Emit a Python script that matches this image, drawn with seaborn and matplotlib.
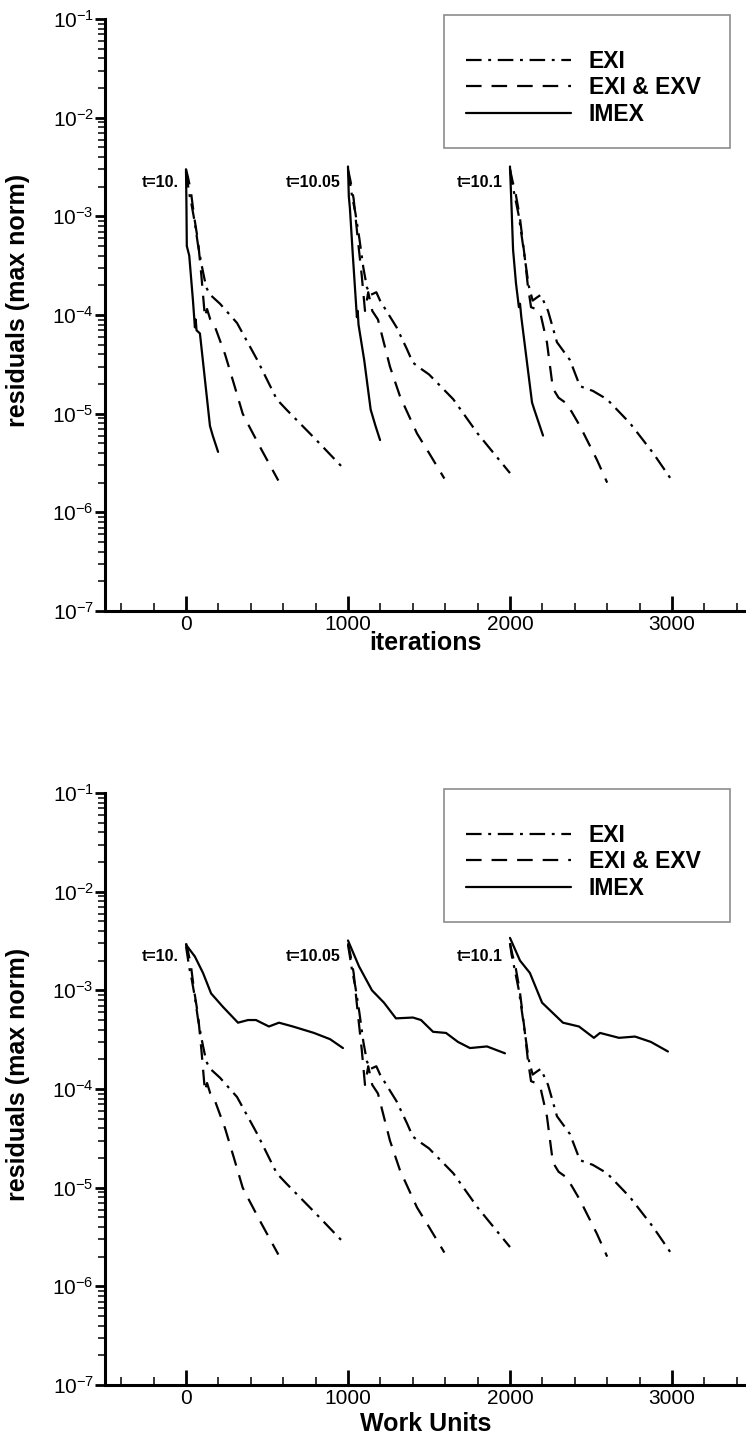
import numpy as np
import pandas as pd
import seaborn as sns
import matplotlib.pyplot as plt
from matplotlib.ticker import LogLocator, MultipleLocator, FuncFormatter, NullFormatter
from matplotlib.lines import Line2D
from matplotlib.patches import Rectangle

# time levels shown in both panels
step_labels = ["t=10.", "t=10.05", "t=10.1"]
label_x = [-45, 955, 1955]
label_y = 2.2e-3

# EXI (dash-dot) -- same in both panels
exi_x = [
    [0, 8, 20, 35, 55, 75, 100, 125, 150, 210, 315, 440, 560, 620, 800, 980],
    [1000, 1010, 1025, 1045, 1070, 1095, 1117, 1140, 1175, 1198, 1300, 1364, 1400, 1444, 1500, 1650, 1800, 2000],
    [2000, 2010, 2030, 2055, 2085, 2115, 2140, 2165, 2190, 2235, 2290, 2370, 2432, 2512, 2599, 2741, 2883, 3000],
]
exi_y = [
    [2.8e-3, 2.3e-3, 1.7e-3, 1.3e-3, 8.5e-4, 5e-4, 3e-4, 1.9e-4, 1.6e-4, 1.3e-4, 8.3e-5, 3.5e-5, 1.4e-5, 1.1e-5, 5.5e-6, 2.7e-6],
    [2.9e-3, 2.3e-3, 1.6e-3, 1.1e-3, 6e-4, 3e-4, 1.9e-4, 1.6e-4, 1.7e-4, 1.4e-4, 7.5e-5, 4.5e-5, 3.3e-5, 2.9e-5, 2.5e-5, 1.4e-5, 6.3e-6, 2.5e-6],
    [3e-3, 2.3e-3, 1.6e-3, 1e-3, 4.5e-4, 2e-4, 1.4e-4, 1.5e-4, 1.6e-4, 1.1e-4, 5.3e-5, 3.5e-5, 1.9e-5, 1.7e-5, 1.4e-5, 8e-6, 4e-6, 2.1e-6],
]

# EXI & EXV (dashed) -- same in both panels
exv_x = [
    [0, 12, 30, 50, 75, 95, 117, 130, 150, 180, 241, 296, 350, 380, 460, 570],
    [1000, 1015, 1035, 1060, 1085, 1105, 1125, 1150, 1185, 1259, 1321, 1426, 1500, 1595],
    [2000, 2015, 2035, 2060, 2090, 2110, 2130, 2160, 2190, 2228, 2265, 2300, 2340, 2380, 2432, 2537, 2600],
]
exv_y = [
    [3e-3, 2.5e-3, 1.8e-3, 1e-3, 5.5e-4, 2.5e-4, 9.5e-5, 1.15e-4, 9e-5, 7.5e-5, 4e-5, 2e-5, 1e-5, 8e-6, 4.5e-6, 2.1e-6],
    [3e-3, 2.3e-3, 1.5e-3, 6e-4, 2.5e-4, 1.1e-4, 1.7e-4, 1.1e-4, 9e-5, 3e-5, 1.5e-5, 6.3e-6, 4e-6, 2.2e-6],
    [3e-3, 2.3e-3, 1.7e-3, 1e-3, 4e-4, 2e-4, 1.2e-4, 1.15e-4, 1e-4, 5.3e-5, 1.8e-5, 1.45e-5, 1.3e-5, 1.05e-5, 7.5e-6, 3.4e-6, 2e-6],
]

# IMEX (solid) vs iterations
imex_it_x = [
    [0, 3, 5, 20, 43, 55, 60, 65, 86, 148, 165, 198],
    [1000, 1005, 1012, 1030, 1055, 1060, 1065, 1100, 1140, 1170, 1198],
    [2000, 2010, 2019, 2037, 2055, 2062, 2070, 2136, 2150, 2204],
]
imex_it_y = [
    [3e-3, 1.2e-3, 5e-4, 4e-4, 1.4e-4, 7.5e-5, 9e-5, 7e-5, 6.5e-5, 7.5e-6, 6e-6, 4.1e-6],
    [3.2e-3, 1.6e-3, 1.2e-3, 4e-4, 9.5e-5, 1.1e-4, 8e-5, 3.5e-5, 1.1e-5, 7.5e-6, 5.4e-6],
    [3.2e-3, 1.2e-3, 4.6e-4, 2.1e-4, 1.2e-4, 1.3e-4, 9.5e-5, 1.3e-5, 1.1e-5, 6e-6],
]

# IMEX (solid) vs work units
imex_wu_x = [
    [0, 55, 105, 155, 228, 321, 383, 432, 512, 574, 660, 790, 889, 969],
    [1000, 1068, 1148, 1222, 1296, 1401, 1451, 1525, 1605, 1679, 1753, 1858, 1969],
    [2000, 2062, 2123, 2198, 2327, 2426, 2518, 2556, 2673, 2772, 2870, 2975],
]
imex_wu_y = [
    [2.9e-3, 2.2e-3, 1.5e-3, 9.3e-4, 6.8e-4, 4.7e-4, 5e-4, 5e-4, 4.3e-4, 4.7e-4, 4.3e-4, 3.7e-4, 3.2e-4, 2.6e-4],
    [3.2e-3, 1.75e-3, 1e-3, 7.5e-4, 5.2e-4, 5.3e-4, 5e-4, 3.8e-4, 3.7e-4, 3e-4, 2.6e-4, 2.7e-4, 2.3e-4],
    [3.4e-3, 2e-3, 1.5e-3, 7.5e-4, 4.7e-4, 4.3e-4, 3.3e-4, 3.7e-4, 3.3e-4, 3.4e-4, 3e-4, 2.4e-4],
]

schemes = ["EXI", "EXI & EXV", "IMEX"]
dash_map = {"EXI": (7, 3, 1.3, 3), "EXI & EXV": (7, 4.5), "IMEX": ""}
LW = 1.6


def build_frame(imex_x, imex_y):
    rows = []
    for name, xs, ys in [("EXI", exi_x, exi_y), ("EXI & EXV", exv_x, exv_y), ("IMEX", imex_x, imex_y)]:
        for k in range(3):
            for xv, yv in zip(xs[k], ys[k]):
                rows.append({"x": xv, "res": yv, "scheme": name, "step": k})
    return pd.DataFrame(rows)


sns.set_theme(style="ticks")
plt.rcParams["font.family"] = ["Liberation Sans", "DejaVu Sans"]
plt.rcParams["mathtext.default"] = "regular"
for key in ["text.color", "axes.labelcolor", "xtick.color", "ytick.color", "axes.edgecolor"]:
    plt.rcParams[key] = "black"

fig = plt.figure(figsize=(7.46, 14.4), dpi=100)
ax_top = fig.add_axes([105 / 746, 1 - 611 / 1440, 1 - 105 / 746, 592 / 1440])
ax_bot = fig.add_axes([105 / 746, 1 - 1385 / 1440, 1 - 105 / 746, 592 / 1440])

# legend box top edge (pixels from the top of the figure) and x-label pad per panel
panels = [(ax_top, build_frame(imex_it_x, imex_it_y), "iterations", 15, -2),
          (ax_bot, build_frame(imex_wu_x, imex_wu_y), "Work Units", 789, 3)]

for ax, df, xlab, box_top, xpad in panels:
    sns.lineplot(data=df, x="x", y="res", style="scheme", units="step", estimator=None,
                 sort=False, style_order=schemes, dashes=dash_map, color="black",
                 linewidth=LW, legend=False, ax=ax)
    ax.set_yscale("log")
    ax.set_ylim(1e-7, 1e-1)
    ax.set_xlim(-500, 3457)

    for s in ["top", "right"]:
        ax.spines[s].set_visible(False)
    for s in ["left", "bottom"]:
        ax.spines[s].set_linewidth(2.2)

    ax.yaxis.set_major_locator(LogLocator(base=10, numticks=10))
    ax.yaxis.set_minor_locator(LogLocator(base=10, subs=np.arange(2, 10), numticks=10))
    ax.yaxis.set_major_formatter(FuncFormatter(lambda v, p: "$10^{%d}$" % round(np.log10(v))))
    ax.yaxis.set_minor_formatter(NullFormatter())
    ax.xaxis.set_major_locator(MultipleLocator(1000))
    ax.xaxis.set_minor_locator(MultipleLocator(200))

    ax.tick_params(axis="y", which="major", direction="out", length=7, width=2, labelsize=15, pad=1)
    ax.tick_params(axis="y", which="minor", direction="out", length=5, width=1.1)
    ax.tick_params(axis="x", which="major", direction="in", length=11, width=2, labelsize=15, pad=3)
    ax.tick_params(axis="x", which="minor", direction="in", length=6, width=1.1)

    ax.set_xlabel(xlab, fontsize=18, fontweight="bold", labelpad=xpad)
    ax.set_ylabel("residuals (max norm)", fontsize=18, fontweight="bold")
    ax.yaxis.set_label_coords(-0.117, 0.525)

    for lab, lx in zip(step_labels, label_x):
        ax.text(lx, label_y, lab, ha="right", va="center", fontsize=11.5, fontweight="bold")

    # legend frame drawn separately so the entries can sit low in the box
    fig.add_artist(Rectangle((444 / 746, 1 - (box_top + 133) / 1440), 286 / 746, 133 / 1440,
                             transform=fig.transFigure, fill=False, edgecolor="#8c8c8c", linewidth=1.2))
    handles = [Line2D([], [], color="black", linewidth=LW,
                      dashes=dash_map[s] if dash_map[s] else (None, None)) for s in schemes]
    ax.legend(handles, schemes, loc="upper left",
              bbox_to_anchor=(466 / 746, 1 - (box_top + 35) / 1440),
              bbox_transform=fig.transFigure,
              prop={"weight": "bold", "size": 16.5}, frameon=False,
              handlelength=4.6, handletextpad=0.75, borderpad=0,
              labelspacing=0.15, borderaxespad=0)

fig.savefig("out.png", dpi=100)
